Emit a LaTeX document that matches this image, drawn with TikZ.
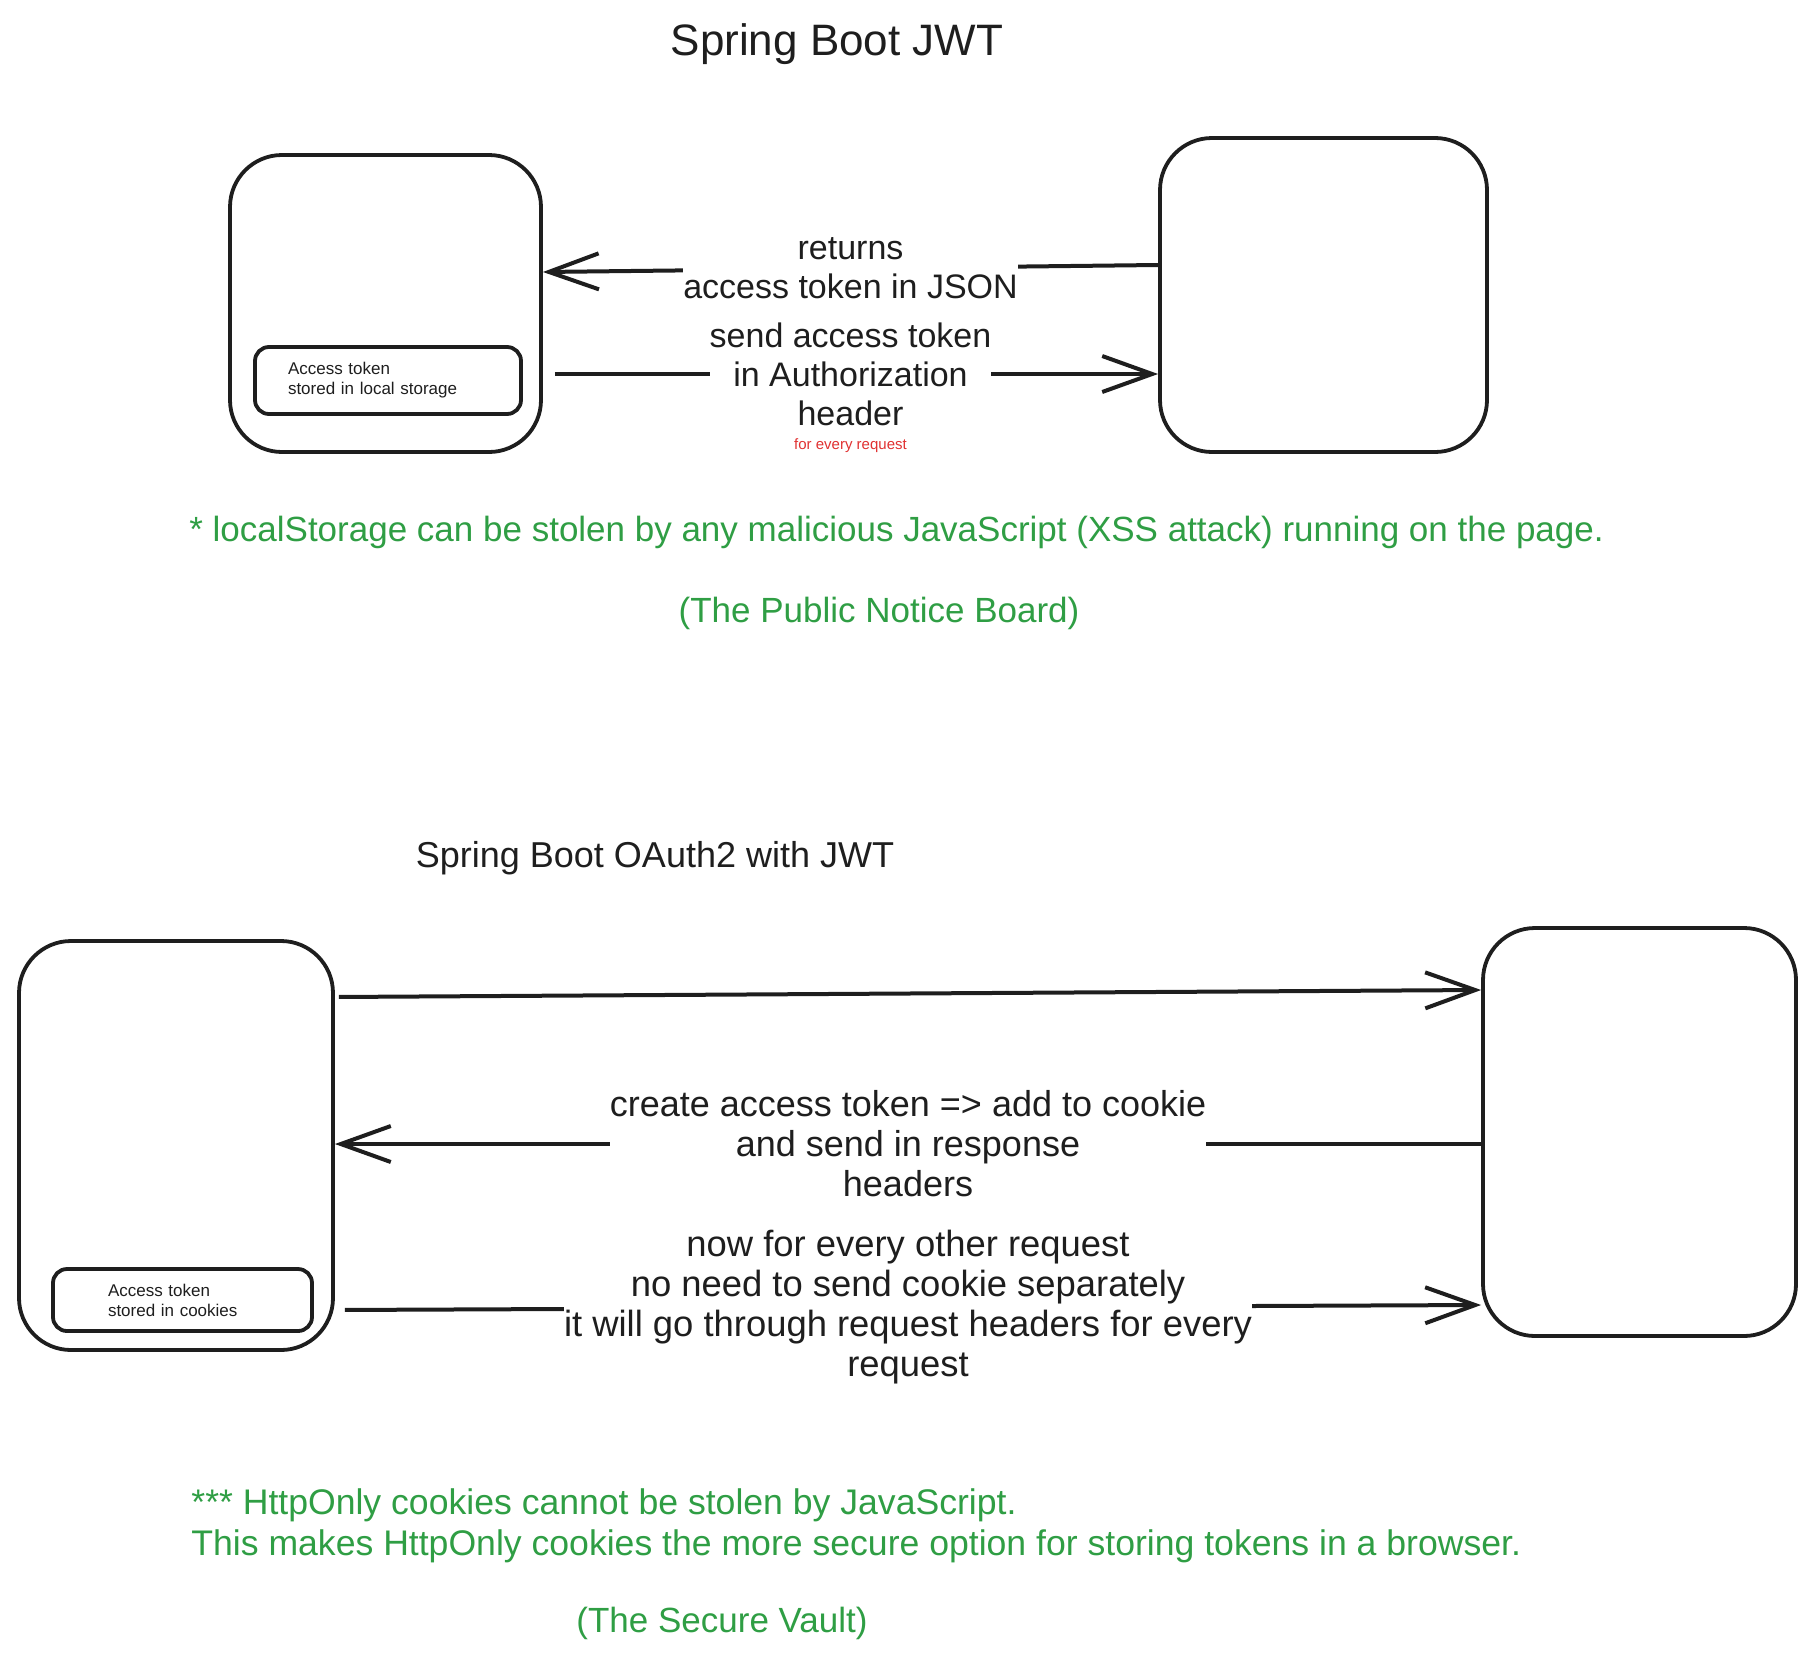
\documentclass[tikz,border=0pt]{standalone}
\usepackage{fontspec}
\setmainfont{Liberation Sans}
\usepackage{xcolor}
\usepackage{tikz}
\usetikzlibrary{positioning,arrows.meta}
\definecolor{ink}{HTML}{1E1E1E}
\definecolor{noteGreen}{HTML}{2F9E44}
\definecolor{noteRed}{HTML}{E03131}

\begin{document}
\begin{tikzpicture}[x=0.5pt,y=-0.5pt,
    every node/.style={text=ink},
    box/.style={draw=ink, line width=1.9pt, rounded corners=26pt, inner sep=0pt},
    tokenbox/.style={draw=ink, line width=1.9pt, rounded corners=7pt, align=left,
        font=\fontsize{8.5}{10}\selectfont},
    flow/.style={draw=ink, line width=2pt, -{Straight Barb[length=25pt,width=18pt]}},
    flowlabel/.style={fill=white, align=center, inner sep=0pt,
        font=\fontsize{17}{19.5}\selectfont},
    heading/.style={font=\fontsize{22}{26}\selectfont},
    warn/.style={text=noteGreen, align=left, inner sep=0pt, font=\fontsize{17.5}{20.5}\selectfont}]
    \useasboundingbox (0,0) rectangle (1814,1665);

    % Spring Boot JWT
    \node[heading] (titleJwt) at (837,44) {Spring Boot JWT};

    % Browser and server
    \node[box, minimum width=155.5pt, minimum height=148.5pt] (clientJwt) at (385.5,303.5) {};
    \node[tokenbox, text width=100pt, inner xsep=16.5pt, minimum height=33.5pt] (storeJwt)
        at (388,380.5) {Access token\\stored in local storage};
    \node[box, minimum width=163.5pt, minimum height=157pt] (serverJwt) at (1323.5,295) {};

    % Token exchange
    \draw[flow] ([yshift=15pt]serverJwt.west) -- node[flowlabel] (returnsLbl)
        {returns\\access token in JSON} ([yshift=15.75pt]clientJwt.east);
    \draw[flow, shorten <=6pt] ([yshift=-35.25pt]clientJwt.east) -- node[flowlabel] (sendLbl)
        {send access token\\in Authorization\\header} ([yshift=-39.5pt]serverJwt.west);
    \node[text=noteRed, font=\fontsize{7.5}{9}\selectfont, below=2pt of sendLbl] (everyReq)
        {for every request};

    % Warning
    \node[warn, anchor=west] (warnJwt) at (189,532)
        {* localStorage can be stolen by any malicious JavaScript (XSS attack) running on the page.};
    \node[warn] (boardJwt) at (879,613) {(The Public Notice Board)};

    % Spring Boot OAuth2 with JWT
    \node[heading, font=\fontsize{18}{22}\selectfont] (titleOauth) at (655,858)
        {Spring Boot OAuth2 with JWT};

    % Browser and server
    \node[box, minimum width=157pt, minimum height=204.5pt] (clientOauth) at (176,1145.5) {};
    \node[tokenbox, text width=74.5pt, inner xsep=27.5pt, minimum height=31pt] (storeOauth)
        at (182.5,1300) {Access token\\stored in cookies};
    \node[box, minimum width=156.5pt, minimum height=204pt] (serverOauth) at (1639.5,1132) {};

    % Token exchange
    \draw[flow, shorten <=2pt] ([yshift=74.25pt]clientOauth.east) -- ([yshift=71pt]serverOauth.west);
    \draw[flow] ([yshift=-6pt]serverOauth.west) -- node[flowlabel, font=\fontsize{18}{20}\selectfont] (cookieLbl)
        {create access token => add to cookie\\and send in response\\headers}
        ([yshift=0.75pt]clientOauth.east);
    \draw[flow, shorten <=5pt] ([yshift=-82.25pt]clientOauth.east) -- node[flowlabel, font=\fontsize{18.2}{20}\selectfont] (otherLbl)
        {now for every other request\\no need to send cookie separately\\it will go through request headers for every\\request}
        ([yshift=-86.5pt]serverOauth.west);

    % Warning
    \node[warn, anchor=west, font=\fontsize{17.8}{20.5}\selectfont] (warnOauth) at (191,1525.5)
        {*** HttpOnly cookies cannot be stolen by JavaScript.\\This makes HttpOnly cookies the more secure option for storing tokens in a browser.};
    \node[warn] (vaultOauth) at (722,1623) {(The Secure Vault)};

\end{tikzpicture}
\end{document}
